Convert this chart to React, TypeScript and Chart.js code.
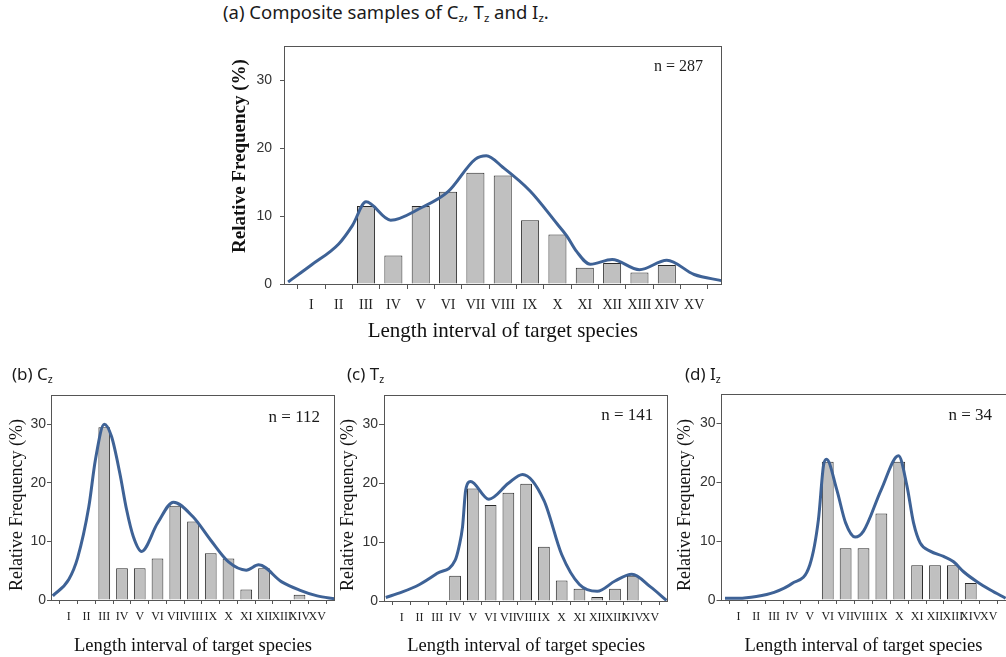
import React, { useEffect, useRef } from "react";
import { Chart, registerables } from "chart.js";

Chart.register(...registerables);

// ---------- data ----------
const tickLabels = ["I", "II", "III", "IV", "V", "VI", "VII", "VIII", "IX", "X", "XI", "XII", "XIII", "XIV", "XV"];
const yTicks = [0, 10, 20, 30];

// (a) composite, n = 287
const barsA = [0, 0, 11.5, 4.2, 11.5, 13.6, 16.4, 16.0, 9.4, 7.3, 2.4, 3.1, 1.7, 2.8, 0];
const curveAX = [0.15, 1, 2, 2.5, 3, 3.9, 5, 6, 7, 7.4, 8, 9, 10, 10.34, 10.7, 11.2, 12, 13, 14, 15, 16];
const curveAY = [0.3, 2.8, 5.9, 8.6, 12.1, 9.4, 11.2, 13.6, 18.4, 18.9, 17.2, 13.7, 8.8, 7.1, 4.8, 2.9, 3.6, 2.1, 3.5, 1.4, 0.5];

// (b) Cz, n = 112
const barsB = [0, 0, 29.5, 5.4, 5.4, 7.1, 16.1, 13.4, 8.0, 7.1, 1.8, 5.4, 0, 0.9, 0];
const curveBX = [0.1, 1, 1.5, 2.13, 2.5, 3, 3.41, 3.88, 4.26, 4.64, 5.1, 6, 6.9, 8, 9, 10, 11, 11.7, 13, 14, 15, 16];
const curveBY = [0.7, 3.5, 7.2, 15.9, 23.9, 30.0, 27.9, 21.6, 15.4, 10.8, 8.3, 13.1, 16.7, 14.2, 10.2, 6.5, 5.1, 6.0, 3.1, 1.7, 0.7, 0.2];

// (c) Tz, n = 141
const barsC = [0, 0, 0, 4.3, 19.1, 16.3, 18.4, 19.9, 9.2, 3.5, 2.1, 0.7, 2.1, 4.3, 0];
const curveCX = [0.1, 1, 2, 3, 4, 4.22, 4.42, 4.6, 4.87, 5.9, 7, 7.8, 9, 10, 11, 12, 13, 13.95, 15, 15.9];
const curveCY = [0.6, 1.5, 2.8, 4.7, 6.9, 9.2, 12.6, 18.9, 20.3, 17.3, 20.0, 21.5, 17.1, 7.9, 2.8, 1.65, 3.4, 4.55, 2.4, 0.1];

// (d) Iz, n = 34
const barsD = [0, 0, 0, 0, 0, 23.5, 8.8, 8.8, 14.7, 23.5, 5.9, 5.9, 5.9, 2.9, 0];
const curveDX = [0.25, 1, 2, 3, 4, 5, 5.48, 5.76, 5.93, 6.5, 7, 7.53, 8, 9, 9.96, 10.43, 10.8, 11.17, 11.73, 12.48, 13.04, 13.6, 14.35, 15.1, 15.95];
const curveDY = [0.3, 0.3, 0.6, 1.3, 2.8, 6.0, 13.7, 22.8, 23.9, 18.8, 13.1, 10.7, 11.7, 18.8, 24.5, 19.4, 13.1, 9.7, 8.3, 7.4, 6.5, 4.8, 3.1, 1.7, 0.3];

const xTitle = "Length interval of target species";
const yTitle = "Relative Frequency (%)";

// ---------- styles ----------
const SERIF = "'Liberation Serif', 'Times New Roman', serif";
const NARROW = "'Liberation Sans Narrow', 'Liberation Sans', Arial, sans-serif";
const SANS = "'Noto Sans', 'Open Sans', sans-serif";
const BAR_FILL = "#c0c0c0";
const BAR_EDGE = "#2a2a2a";
const LINE = "#3e6296";
const FRAME = "#555555";

type PanelCfg = {
  left: number; top: number; w: number; h: number;
  yWidth: number; xHeight: number; padT: number; padR: number;
  bars: number[]; cx: number[]; cy: number[];
  n: string; nFont: number; nR: number; nT: number;
  yTitleSize: number; yTitleBold: boolean; yTitleX: number; yTitleY: number;
  xTitleSize: number; xTitlePad: number;
  xTickSize: number; xTickPad: number; xTickLen: number;
  yTickSize: number; yTickPad: number; yTickLen: number;
};

const panels: PanelCfg[] = [
  {
    left: 200, top: 30, w: 540, h: 320, yWidth: 84, xHeight: 66, padT: 5, padR: 18.5,
    bars: barsA, cx: curveAX, cy: curveAY, n: "n = 287", nFont: 16, nR: 18.5, nT: 20,
    yTitleSize: 19, yTitleBold: true, yTitleX: 240, yTitleY: 156, xTitleSize: 21, xTitlePad: 6.2,
    xTickSize: 14, xTickPad: 8, xTickLen: 5, yTickSize: 14, yTickPad: 8, yTickLen: 4,
  },
  {
    left: 0, top: 360, w: 345, h: 297, yWidth: 51, xHeight: 57, padT: 35, padR: 10,
    bars: barsB, cx: curveBX, cy: curveBY, n: "n = 112", nFont: 17, nR: 15, nT: 23,
    yTitleSize: 18, yTitleBold: false, yTitleX: 17, yTitleY: 505, xTitleSize: 18.5, xTitlePad: 0,
    xTickSize: 12, xTickPad: 6, xTickLen: 4, yTickSize: 14, yTickPad: 1, yTickLen: 4,
  },
  {
    left: 330, top: 360, w: 345, h: 297, yWidth: 54, xHeight: 56, padT: 35, padR: 6.7,
    bars: barsC, cx: curveCX, cy: curveCY, n: "n = 141", nFont: 17, nR: 15, nT: 21,
    yTitleSize: 18, yTitleBold: false, yTitleX: 348.5, yTitleY: 505, xTitleSize: 18.5, xTitlePad: 0,
    xTickSize: 12, xTickPad: 6, xTickLen: 4, yTickSize: 14, yTickPad: 1, yTickLen: 5,
  },
  {
    left: 665, top: 360, w: 346, h: 297, yWidth: 55.5, xHeight: 57, padT: 34, padR: 4.5,
    bars: barsD, cx: curveDX, cy: curveDY, n: "n = 34", nFont: 17, nR: 14.5, nT: 22,
    yTitleSize: 18, yTitleBold: false, yTitleX: 685, yTitleY: 505, xTitleSize: 18.5, xTitlePad: 0,
    xTickSize: 12, xTickPad: 6, xTickLen: 4, yTickSize: 14, yTickPad: 1, yTickLen: 4,
  },
];

function makeFramePlugin(cfg: PanelCfg) {
  return {
    id: "frameAndN",
    afterDraw(chart: any) {
      const { ctx, chartArea } = chart;
      const l = Math.round(chartArea.left) + 0.5;
      const t = Math.round(chartArea.top) + 0.5;
      const r = Math.round(chartArea.right) - 0.5;
      const b = Math.round(chartArea.bottom) + 0.5;
      ctx.save();
      ctx.strokeStyle = FRAME;
      ctx.lineWidth = 1;
      ctx.strokeRect(l, t, r - l, b - t);
      // n label
      ctx.fillStyle = "#1a1a1a";
      ctx.font = `${cfg.nFont}px ${SERIF}`;
      ctx.textAlign = "right";
      ctx.textBaseline = "middle";
      ctx.fillText(cfg.n, chartArea.right - cfg.nR, chartArea.top + cfg.nT);
      // y axis title
      ctx.translate(cfg.yTitleX - cfg.left, cfg.yTitleY - cfg.top);
      ctx.rotate(-Math.PI / 2);
      ctx.textAlign = "center";
      ctx.textBaseline = "middle";
      ctx.fillStyle = "#111";
      ctx.font = `${cfg.yTitleBold ? "bold " : ""}${cfg.yTitleSize}px ${SERIF}`;
      ctx.fillText(yTitle, 0, 0);
      ctx.restore();
    },
  };
}

function Panel({ cfg }: { cfg: PanelCfg }) {
  const ref = useRef<HTMLCanvasElement>(null);
  useEffect(() => {
    if (!ref.current) return;
    const barData = cfg.bars
      .map((v, i) => ({ x: i + 1, y: v }))
      .filter((p) => p.y > 0);
    const lineData = cfg.cx.map((x, i) => ({ x, y: cfg.cy[i] }));
    const chart = new Chart(ref.current, {
      type: "bar",
      data: {
        datasets: [
          {
            type: "line",
            data: lineData,
            borderColor: LINE,
            borderWidth: 3,
            pointRadius: 0,
            cubicInterpolationMode: "monotone",
            fill: false,
            order: 0,
          } as any,
          {
            type: "bar",
            data: barData,
            backgroundColor: BAR_FILL,
            borderColor: BAR_EDGE,
            borderWidth: 1,
            barPercentage: 0.66,
            categoryPercentage: 1,
            order: 1,
          } as any,
        ],
      },
      options: {
        animation: false,
        responsive: false,
        maintainAspectRatio: false,
        layout: { padding: { left: 0, top: cfg.padT, right: cfg.padR, bottom: 0 } },
        plugins: {
          legend: { display: false },
          tooltip: { enabled: false },
          title: { display: false },
        },
        scales: {
          x: {
            type: "linear",
            min: 0,
            max: 16,
            offset: false,
            afterBuildTicks: (s: any) => {
              s.ticks = tickLabels.map((_, i) => ({ value: i + 1 }));
            },
            afterFit: (s: any) => {
              s.height = cfg.xHeight;
            },
            ticks: {
              autoSkip: false,
              maxRotation: 0,
              minRotation: 0,
              padding: cfg.xTickPad,
              color: "#222",
              font: { family: SERIF, size: cfg.xTickSize },
              callback: (v: any) => tickLabels[Math.round(Number(v)) - 1] ?? "",
            },
            grid: {
              drawOnChartArea: false,
              drawTicks: true,
              tickLength: cfg.xTickLen,
              color: FRAME,
              lineWidth: 1,
            },
            border: { display: false },
            title: {
              display: true,
              text: xTitle,
              color: "#111",
              font: { family: SERIF, size: cfg.xTitleSize },
              padding: { top: 0, bottom: cfg.xTitlePad },
            },
          },
          y: {
            type: "linear",
            min: 0,
            max: 35,
            afterBuildTicks: (s: any) => {
              s.ticks = yTicks.map((v) => ({ value: v }));
            },
            afterFit: (s: any) => {
              s.width = cfg.yWidth;
            },
            ticks: {
              padding: cfg.yTickPad,
              color: "#333",
              font: { family: NARROW, size: cfg.yTickSize },
              callback: (v: any) => String(v),
            },
            grid: {
              drawOnChartArea: false,
              drawTicks: true,
              tickLength: cfg.yTickLen,
              color: FRAME,
              lineWidth: 1,
            },
            border: { display: false },
            title: { display: false },
          },
        },
      } as any,
      plugins: [makeFramePlugin(cfg)],
    });
    return () => chart.destroy();
  }, [cfg]);
  return (
    <canvas
      ref={ref}
      width={cfg.w}
      height={cfg.h}
      style={{ position: "absolute", left: cfg.left, top: cfg.top, width: cfg.w, height: cfg.h }}
    />
  );
}

const subStyle: React.CSSProperties = { fontSize: "0.62em", verticalAlign: "-0.28em", lineHeight: 0 };

function Sub({ children }: { children: React.ReactNode }) {
  return <span style={subStyle}>{children}</span>;
}

export default function App() {
  const titleBase: React.CSSProperties = {
    position: "absolute",
    fontFamily: SANS,
    color: "#1a1a1a",
    lineHeight: "20px",
    whiteSpace: "nowrap",
  };
  return (
    <div
      style={{
        position: "fixed",
        left: 0,
        top: 0,
        width: 1006,
        height: 657,
        overflow: "hidden",
        background: "#ffffff",
      }}
    >
      {panels.map((p, i) => (
        <Panel key={i} cfg={p} />
      ))}
      <div style={{ ...titleBase, left: 223, top: 2, fontSize: 18.5 }}>
        (a) Composite samples of C<Sub>z</Sub>, T<Sub>z</Sub> and I<Sub>z</Sub>.
      </div>
      <div style={{ ...titleBase, left: 12, top: 364, fontSize: 17 }}>
        (b) C<Sub>z</Sub>
      </div>
      <div style={{ ...titleBase, left: 347, top: 364, fontSize: 17 }}>
        (c) T<Sub>z</Sub>
      </div>
      <div style={{ ...titleBase, left: 685, top: 364, fontSize: 17 }}>
        (d) I<Sub>z</Sub>
      </div>
    </div>
  );
}
